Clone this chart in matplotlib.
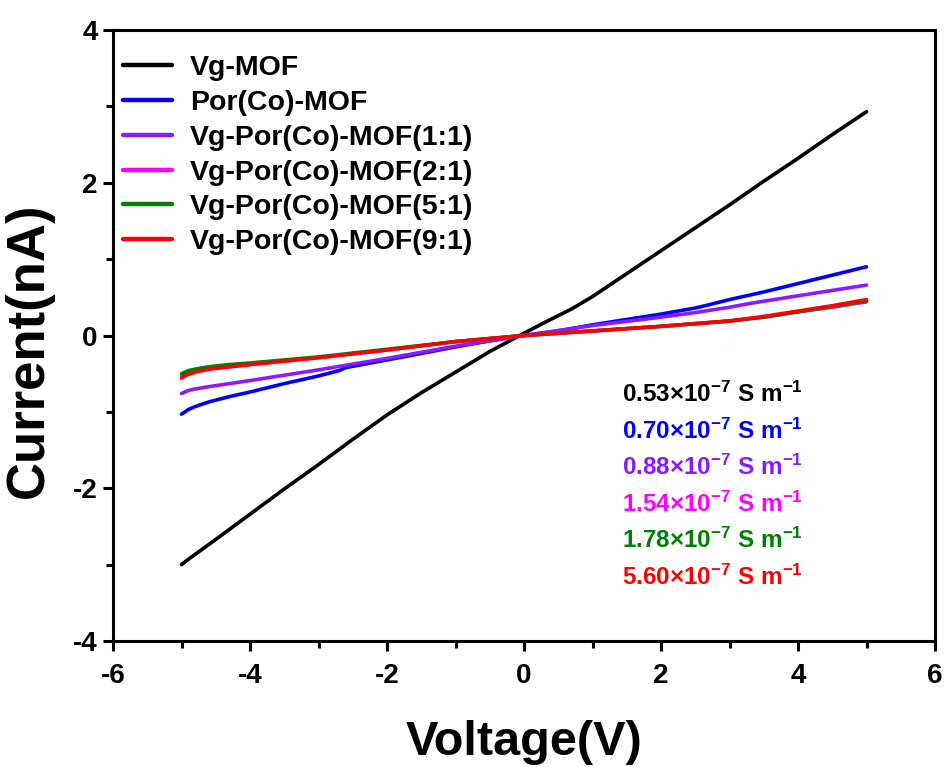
import matplotlib
matplotlib.use("Agg")
import matplotlib.pyplot as plt
from matplotlib.ticker import MultipleLocator

plt.rcParams['font.family'] = ['Liberation Sans', 'DejaVu Sans']
plt.rcParams['font.weight'] = 'bold'
plt.rcParams['axes.unicode_minus'] = False
plt.rcParams['mathtext.fontset'] = 'custom'
plt.rcParams['mathtext.rm'] = 'Liberation Sans:bold'
plt.rcParams['mathtext.bf'] = 'Liberation Sans:bold'
plt.rcParams['mathtext.it'] = 'Liberation Sans:bold'
plt.rcParams['mathtext.default'] = 'bf'

labels = ["Vg-MOF", "Por(Co)-MOF", "Vg-Por(Co)-MOF(1:1)", "Vg-Por(Co)-MOF(2:1)",
          "Vg-Por(Co)-MOF(5:1)", "Vg-Por(Co)-MOF(9:1)"]
colors = ["#000000", "#0000ff", "#8b1aff", "#ff00ff", "#008000", "#ff0000"]
conductivity = ["0.53", "0.70", "0.88", "1.54", "1.78", "5.60"]

v_black = [-5.0, -4.9, -4.5, -4.0, -3.5, -3.0, -2.5, -2.0, -1.5, -1.0, -0.5, 0.0, 0.3, 0.7, 1.0, 1.5, 2.0, 2.5, 3.0, 3.5, 4.0, 4.5, 5.0]
i_black = [-3.00, -2.93, -2.67, -2.34, -2.01, -1.69, -1.36, -1.04, -0.75, -0.48, -0.21, 0.03, 0.17, 0.35, 0.51, 0.81, 1.11, 1.41, 1.71, 2.02, 2.32, 2.63, 2.93]

v_blue = [-5.0, -4.95, -4.9, -4.8, -4.6, -4.3, -4.0, -3.5, -3.0, -2.7, -2.6, -2.0, -1.0, -0.5, 0.0, 0.5, 1.0, 1.5, 2.0, 2.5, 2.6, 3.0, 3.5, 4.0, 4.5, 5.0]
i_blue = [-1.03, -1.00, -0.97, -0.93, -0.87, -0.80, -0.74, -0.63, -0.53, -0.46, -0.42, -0.32, -0.15, -0.07, 0.0, 0.06, 0.14, 0.21, 0.28, 0.36, 0.38, 0.47, 0.57, 0.68, 0.79, 0.90]

v_purple = [-5.0, -4.95, -4.9, -4.8, -4.6, -4.3, -4.0, -3.5, -3.0, -2.0, -1.0, 0.0, 1.0, 2.0, 2.5, 3.0, 3.3, 4.0, 4.5, 5.0]
i_purple = [-0.76, -0.74, -0.72, -0.70, -0.67, -0.63, -0.59, -0.52, -0.45, -0.30, -0.14, 0.0, 0.13, 0.24, 0.30, 0.37, 0.42, 0.52, 0.59, 0.66]

v_magenta = [-5.0, -4.95, -4.9, -4.8, -4.6, -4.3, -4.0, -3.0, -2.0, -1.0, 0.0, 1.0, 2.0, 3.0, 3.5, 4.0, 4.5, 5.0]
i_magenta = [-0.54, -0.52, -0.50, -0.47, -0.44, -0.41, -0.38, -0.29, -0.19, -0.08, 0.0, 0.06, 0.12, 0.19, 0.24, 0.31, 0.37, 0.44]

v_green = [-5.0, -4.95, -4.9, -4.8, -4.6, -4.3, -4.0, -3.0, -2.0, -1.0, 0.0, 1.0, 2.0, 3.0, 3.5, 4.0, 4.5, 5.0]
i_green = [-0.50, -0.48, -0.46, -0.44, -0.41, -0.38, -0.36, -0.28, -0.18, -0.08, 0.0, 0.06, 0.12, 0.19, 0.24, 0.31, 0.38, 0.45]

v_red = [-5.0, -4.95, -4.9, -4.8, -4.6, -4.3, -4.0, -3.0, -2.0, -1.0, 0.0, 1.0, 2.0, 3.0, 3.5, 4.0, 4.5, 5.0]
i_red = [-0.56, -0.53, -0.51, -0.48, -0.44, -0.41, -0.38, -0.29, -0.19, -0.08, 0.0, 0.06, 0.12, 0.19, 0.25, 0.32, 0.39, 0.47]

series = [(v_black, i_black), (v_blue, i_blue), (v_purple, i_purple),
          (v_magenta, i_magenta), (v_green, i_green), (v_red, i_red)]

fig = plt.figure(figsize=(9.47, 7.67), dpi=100)
ax = fig.add_axes([113/947, 1-641/767, (935-113)/947, (641-30)/767])

for (v, i), lab, c in zip(series, labels, colors):
    ax.plot(v, i, color=c, lw=2.6, label=lab, solid_capstyle='round', solid_joinstyle='round')

ax.set_xlim(-6, 6)
ax.set_ylim(-4, 4)
ax.xaxis.set_major_locator(MultipleLocator(2))
ax.xaxis.set_minor_locator(MultipleLocator(1))
ax.yaxis.set_major_locator(MultipleLocator(2))
ax.yaxis.set_minor_locator(MultipleLocator(1))
ax.tick_params(which='major', direction='out', length=7, width=2.2, top=False, right=False)
ax.tick_params(which='minor', direction='out', length=5, width=2.2, top=False, right=False)
ax.tick_params(axis='y', labelsize=20, pad=4)
ax.tick_params(axis='x', labelsize=20, pad=9)
for lab in ax.get_xticklabels() + ax.get_yticklabels():
    lab.set_fontweight('bold')
for s in ax.spines.values():
    s.set_linewidth(2.2)

ax.set_xlabel("Voltage(V)", fontsize=35, fontweight='bold')
ax.xaxis.set_label_coords(0.5, (641 - 720) / 611)
ax.set_ylabel("Current(nA)", fontsize=38, fontweight='bold')
ax.yaxis.set_label_coords((54 - 113) / 822, (641 - 350) / 611)

leg = ax.legend(loc='upper left', bbox_to_anchor=(0.0122, 0.959), frameon=False,
                handlelength=1.72, handletextpad=0.63, labelspacing=0.31,
                borderaxespad=0.0, borderpad=0.0,
                prop={'weight': 'bold', 'size': 20.5})
for line in leg.get_lines():
    line.set_linewidth(3.2)

for k, (cv, c) in enumerate(zip(conductivity, colors)):
    ax.text(0.619, (641 - 402) / 611 - k * 36.5 / 611, cv + r"×10$^{-7}$ S m$^{-1}$", color=c,
            transform=ax.transAxes, fontsize=17.5, fontweight='bold', va='baseline', ha='left')

fig.savefig("out.png", dpi=100)
